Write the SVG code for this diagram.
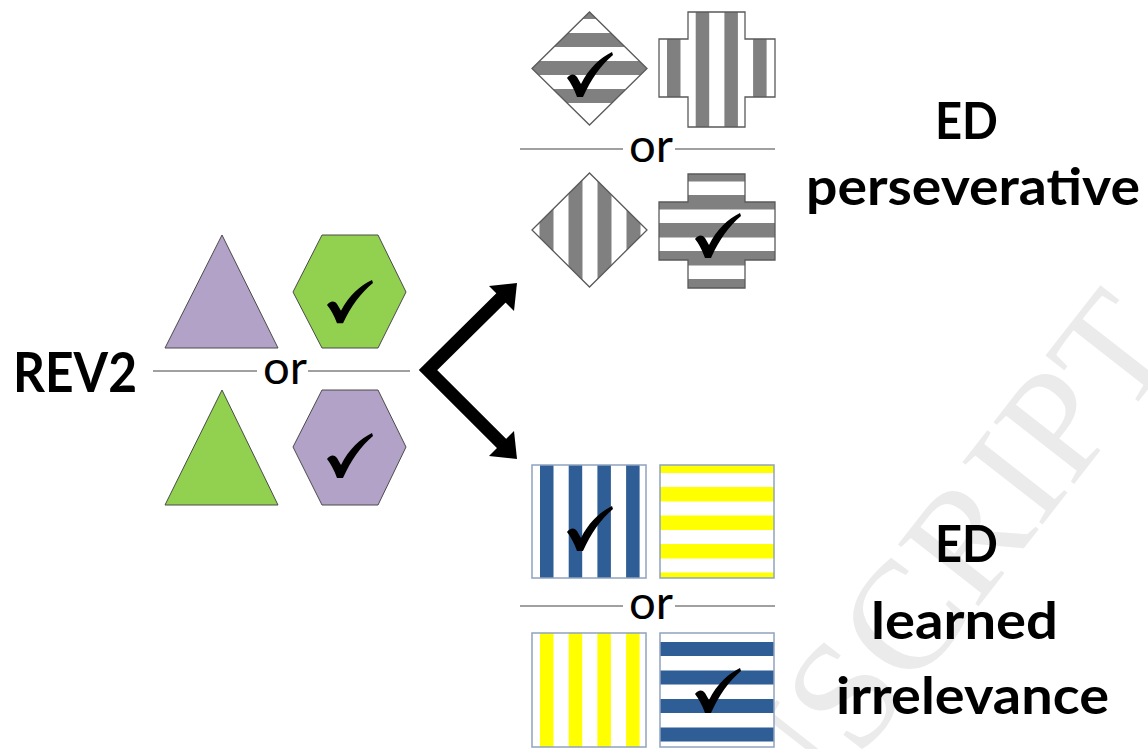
<svg xmlns="http://www.w3.org/2000/svg" width="1148" height="749" viewBox="0 0 1148 749">
<style>
.lbl{font-family:Lato,"Liberation Sans",sans-serif;font-weight:700;fill:#000}
.or{font-family:Lato,"Liberation Sans",sans-serif;font-weight:400;fill:#000;font-size:46px}
.sep{stroke:#808080;stroke-width:1.5}
.grey{fill:#808080}
.blue{fill:#2f5d95}
.yel{fill:#ffff00}
.gout{fill:none;stroke:#5a5a5a;stroke-width:1.3}
.sqout{fill:none;stroke:#8fa3bf;stroke-width:1.5}
.poly{stroke:#4a4a4a;stroke-width:1}
.green{fill:#92d050}
.purple{fill:#b3a2c7}
.wm{font-family:"Liberation Serif",serif;font-size:155px;fill:#ebebeb}
</style>
<defs>
<path id="chk" d="M0,26 C3,22 7,21 10,25 L14,32 C22,16 33,6 45,0 L46,3 C34,13 24,27 16,45 L10,45 C7,37 4,31 0,26 Z" fill="#000"/>
<clipPath id="cD1"><polygon points="532,68.5 589.5,12 647,68.5 589.5,125"/></clipPath>
<clipPath id="cX1"><path d="M688,12 H745 V39 H775 V97 H745 V127 H688 V97 H659 V39 H688 Z"/></clipPath>
<clipPath id="cD2"><polygon points="532,230 589.5,173 647,230 589.5,287"/></clipPath>
<clipPath id="cX2"><path d="M688,174 H745 V202 H775 V260 H745 V288 H688 V260 H659 V202 H688 Z"/></clipPath>
<clipPath id="cS1"><rect x="660" y="465" width="114" height="113"/></clipPath>
<clipPath id="cS2"><rect x="660" y="633" width="114" height="114"/></clipPath>
</defs>
<rect width="1148" height="749" fill="#fff"/>
<text class="wm" transform="translate(567,1133) rotate(-52)">MANUSCRIPT</text>

<g id="rev2-label">
<text class="lbl" x="13" y="392" font-size="55" textLength="124" lengthAdjust="spacingAndGlyphs">REV2</text>
</g>

<g id="rev2-stimuli">
<polygon class="poly purple" points="222,235 165,348 278,348"/>
<polygon class="poly green" points="293,292 322,235 378,235 406,292 378,348 322,348"/>
<use href="#chk" transform="translate(327,280) scale(1,0.96)"/>
<line class="sep" x1="153" y1="371" x2="257" y2="371"/>
<text class="or" x="263" y="384" textLength="44" lengthAdjust="spacingAndGlyphs">or</text>
<line class="sep" x1="308" y1="371" x2="410" y2="371"/>
<polygon class="poly green" points="222,390 165,505 278,505"/>
<polygon class="poly purple" points="293,447 322,390 378,390 406,447 378,505 322,505"/>
<use href="#chk" transform="translate(327,433)"/>
</g>

<g id="ed-perseverative-stimuli">
<g clip-path="url(#cD1)">
<rect x="532" y="12" width="115" height="113" fill="#fff"/>
<rect class="grey" x="530" y="5" width="120" height="14"/>
<rect class="grey" x="530" y="33" width="120" height="14"/>
<rect class="grey" x="530" y="61" width="120" height="14"/>
<rect class="grey" x="530" y="89" width="120" height="14"/>
</g>
<polygon class="gout" points="532,68.5 589.5,12 647,68.5 589.5,125"/>
<use href="#chk" transform="translate(567,52)"/>
<g clip-path="url(#cX1)">
<rect x="659" y="12" width="116" height="115" fill="#fff"/>
<rect class="grey" x="667" y="10" width="13.5" height="120"/>
<rect class="grey" x="695.7" y="10" width="13.5" height="120"/>
<rect class="grey" x="724.4" y="10" width="13.5" height="120"/>
<rect class="grey" x="753.1" y="10" width="13.5" height="120"/>
</g>
<path class="gout" d="M688,12 H745 V39 H775 V97 H745 V127 H688 V97 H659 V39 H688 Z"/>
<line class="sep" x1="520" y1="149" x2="623" y2="149"/>
<text class="or" x="629" y="162" textLength="44" lengthAdjust="spacingAndGlyphs">or</text>
<line class="sep" x1="675" y1="149" x2="775" y2="149"/>
<g clip-path="url(#cD2)">
<rect x="532" y="173" width="115" height="114" fill="#fff"/>
<rect class="grey" x="539.5" y="170" width="14" height="120"/>
<rect class="grey" x="568.5" y="170" width="14" height="120"/>
<rect class="grey" x="597.5" y="170" width="14" height="120"/>
<rect class="grey" x="626.5" y="170" width="14" height="120"/>
</g>
<polygon class="gout" points="532,230 589.5,173 647,230 589.5,287"/>
<g clip-path="url(#cX2)">
<rect x="659" y="174" width="116" height="114" fill="#fff"/>
<rect class="grey" x="655" y="167" width="125" height="14.5"/>
<rect class="grey" x="655" y="195" width="125" height="14.5"/>
<rect class="grey" x="655" y="223" width="125" height="14.5"/>
<rect class="grey" x="655" y="251" width="125" height="14.5"/>
<rect class="grey" x="655" y="279" width="125" height="14.5"/>
</g>
<path class="gout" d="M688,174 H745 V202 H775 V260 H745 V288 H688 V260 H659 V202 H688 Z"/>
<use href="#chk" transform="translate(695,213)"/>
</g>

<g id="ed-perseverative-label">
<text class="lbl" x="935" y="139" font-size="51" textLength="63" lengthAdjust="spacingAndGlyphs">ED</text>
<text class="lbl" x="806" y="205" font-size="51" textLength="334" lengthAdjust="spacingAndGlyphs">perseverative</text>
</g>

<g id="ed-learned-irrelevance-stimuli">
<rect x="532" y="465" width="114" height="113" fill="#fff"/>
<rect class="blue" x="540" y="465" width="13.5" height="113"/>
<rect class="blue" x="568.7" y="465" width="13.5" height="113"/>
<rect class="blue" x="597.4" y="465" width="13.5" height="113"/>
<rect class="blue" x="626.1" y="465" width="13.5" height="113"/>
<rect class="sqout" x="532" y="465" width="114" height="113"/>
<use href="#chk" transform="translate(567,506)"/>
<g clip-path="url(#cS1)">
<rect x="660" y="465" width="114" height="113" fill="#fff"/>
<rect class="yel" x="660" y="458.5" width="114" height="14.5"/>
<rect class="yel" x="660" y="487" width="114" height="14.5"/>
<rect class="yel" x="660" y="515.5" width="114" height="14.5"/>
<rect class="yel" x="660" y="544" width="114" height="14.5"/>
<rect class="yel" x="660" y="572.5" width="114" height="14.5"/>
</g>
<rect class="sqout" x="660" y="465" width="114" height="113"/>
<line class="sep" x1="520" y1="606" x2="623" y2="606"/>
<text class="or" x="629" y="619" textLength="44" lengthAdjust="spacingAndGlyphs">or</text>
<line class="sep" x1="675" y1="606" x2="775" y2="606"/>
<rect x="532" y="633" width="114" height="114" fill="#fff"/>
<rect class="yel" x="540" y="633" width="13.5" height="114"/>
<rect class="yel" x="568.7" y="633" width="13.5" height="114"/>
<rect class="yel" x="597.4" y="633" width="13.5" height="114"/>
<rect class="yel" x="626.1" y="633" width="13.5" height="114"/>
<rect class="sqout" x="532" y="633" width="114" height="114"/>
<g clip-path="url(#cS2)">
<rect x="660" y="633" width="114" height="114" fill="#fff"/>
<rect class="blue" x="660" y="642" width="114" height="14"/>
<rect class="blue" x="660" y="670.5" width="114" height="14"/>
<rect class="blue" x="660" y="699" width="114" height="14"/>
<rect class="blue" x="660" y="727.5" width="114" height="14"/>
</g>
<rect class="sqout" x="660" y="633" width="114" height="114"/>
<use href="#chk" transform="translate(695,668)"/>
</g>

<g id="ed-learned-irrelevance-label">
<text class="lbl" x="935" y="562" font-size="51" textLength="63" lengthAdjust="spacingAndGlyphs">ED</text>
<text class="lbl" x="871" y="639" font-size="51" textLength="187" lengthAdjust="spacingAndGlyphs">learned</text>
<text class="lbl" x="836" y="714" font-size="51" textLength="273" lengthAdjust="spacingAndGlyphs">irrelevance</text>
</g>

<g id="connectors">
<path d="M507,292 L428,370 L507,449" fill="none" stroke="#000" stroke-width="13" stroke-linejoin="miter"/>
<polygon points="517,283 489,286 514,311" fill="#000"/>
<polygon points="517,459 489,456 514,431" fill="#000"/>
</g>
</svg>
